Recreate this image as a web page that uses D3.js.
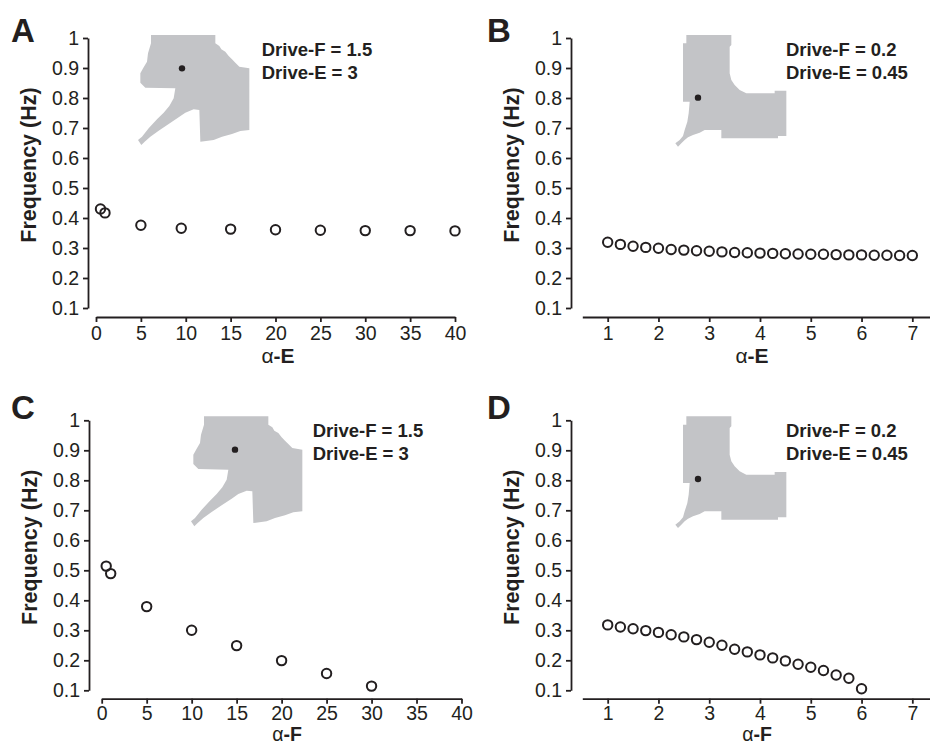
<!DOCTYPE html>
<html>
<head>
<meta charset="utf-8">
<script src="https://cdn.jsdelivr.net/npm/d3@7"></script>
<style>
  body { margin: 0; background: #fff; }
  svg { display: block; font-family: "Liberation Sans", Arial, sans-serif; }
  .axis path, .axis line { stroke: #231f20; stroke-width: 1.8; }
  .axis text { fill: #231f20; font-size: 19.5px; }
</style>
</head>
<body>
<div id="chart"></div>
<script>
// ---- data ----
var yTicks = [0.1, 0.2, 0.3, 0.4, 0.5, 0.6, 0.7, 0.8, 0.9, 1];
var xTicksWide = [0, 5, 10, 15, 20, 25, 30, 35, 40];
var xTicksNarrow = [1, 2, 3, 4, 5, 6, 7];

// A: alpha-E sweep, Drive-F = 1.5, Drive-E = 3
var alphaE_A = [0.5, 1, 5, 9.5, 15, 20, 25, 30, 35, 40];
var freqA = [0.430, 0.417, 0.376, 0.366, 0.363, 0.361, 0.359, 0.358, 0.358, 0.357];

// B: alpha-E sweep, Drive-F = 0.2, Drive-E = 0.45
var alphaE_B = [1, 1.25, 1.5, 1.75, 2, 2.25, 2.5, 2.75, 3, 3.25, 3.5, 3.75, 4,
                4.25, 4.5, 4.75, 5, 5.25, 5.5, 5.75, 6, 6.25, 6.5, 6.75, 7];
var freqB = [0.319, 0.312, 0.306, 0.302, 0.299, 0.295, 0.293, 0.291, 0.289, 0.287,
             0.285, 0.284, 0.283, 0.282, 0.281, 0.280, 0.279, 0.279, 0.278, 0.277,
             0.277, 0.276, 0.276, 0.275, 0.275];

// C: alpha-F sweep, Drive-F = 1.5, Drive-E = 3
var alphaF_C = [0.5, 1, 5, 10, 15, 20, 25, 30];
var freqC = [0.514, 0.489, 0.379, 0.300, 0.249, 0.199, 0.156, 0.114];

// D: alpha-F sweep, Drive-F = 0.2, Drive-E = 0.45
var alphaF_D = [1, 1.25, 1.5, 1.75, 2, 2.25, 2.5, 2.75, 3, 3.25, 3.5, 3.75, 4,
                4.25, 4.5, 4.75, 5, 5.25, 5.5, 5.75, 6];
var freqD = [0.318, 0.311, 0.305, 0.299, 0.293, 0.285, 0.278, 0.269, 0.260, 0.250,
             0.237, 0.228, 0.218, 0.208, 0.198, 0.187, 0.177, 0.166, 0.151, 0.140, 0.105];

var driveHigh = ["Drive-F = 1.5", "Drive-E = 3"];
var driveLow = ["Drive-F = 0.2", "Drive-E = 0.45"];

// inset regions (oscillation region outlines, grid units 0..375)
var regionHigh = [[57,15],[250,15],[250,40],[262,48],[268,58],[280,65],[290,78],[300,88],
  [310,98],[322,110],[352,115],[352,300],[325,303],[300,312],[270,320],[245,330],[205,335],
  [202,240],[185,238],[160,248],[140,262],[110,282],[80,302],[55,320],[38,335],[28,345],
  [18,330],[30,320],[50,295],[75,268],[95,248],[112,228],[125,205],[130,175],[40,173],
  [25,158],[25,130],[35,112],[45,95],[48,70],[57,40]];
var dotHigh = [150, 115];
var regionLow = [[55,15],[190,15],[190,45],[185,50],[185,130],[190,150],[200,165],[215,180],
  [235,190],[320,190],[320,182],[355,182],[355,318],[330,318],[330,325],[160,325],[160,300],
  [110,300],[95,308],[75,315],[60,322],[50,330],[40,340],[30,350],[22,340],[35,330],[45,318],
  [50,300],[58,275],[62,250],[65,215],[45,215],[45,40],[55,40]];
var dotLow = [90, 203];

// ---- layout ----
var W = 930, H = 745;
var ink = "#231f20", regionGrey = "#c3c4c7";

var panels = [
  { letter: "A", lx: 11, ly: 41.7, xs: alphaE_A, ys: freqA, xDom: [0, 40], xTicks: xTicksWide,
    xRange: [96, 455], yAxisX: 88, yRange: [308, 38], xAxisY: 317, xPad: 4, xName: "E", xLabX: 278, xLabY: 363, xLabSize: 21,
    drive: driveHigh, dx: 261.7, dy: 56, region: regionHigh, dot: dotHigh, ix: 132, iy: 30 },
  { letter: "B", lx: 487, ly: 41.7, xs: alphaE_B, ys: freqB, xDom: [0.5, 7.5], xTicks: xTicksNarrow,
    xRange: [582.3, 937.7], yAxisX: 571, yRange: [308, 38], xAxisY: 317, xPad: 4, xName: "E", xLabX: 752, xLabY: 363, xLabSize: 21,
    drive: driveLow, dx: 786, dy: 56, region: regionLow, dot: dotLow, ix: 668, iy: 30 },
  { letter: "C", lx: 11, ly: 418.7, xs: alphaF_C, ys: freqC, xDom: [0, 40], xTicks: xTicksWide,
    xRange: [101.7, 461.5], yAxisX: 89, yRange: [690.3, 420.3], xAxisY: 698.7, xPad: 2, xName: "F", xLabX: 287, xLabY: 740.5, xLabSize: 19.5,
    drive: driveHigh, dx: 312.7, dy: 437, region: regionHigh, dot: dotHigh, ix: 185, iy: 411.3 },
  { letter: "D", lx: 487, ly: 418.7, xs: alphaF_D, ys: freqD, xDom: [0.5, 7.5], xTicks: xTicksNarrow,
    xRange: [582.3, 937.7], yAxisX: 571, yRange: [690.3, 420.3], xAxisY: 698.7, xPad: 2, xName: "F", xLabX: 757, xLabY: 740.5, xLabSize: 19.5,
    drive: driveLow, dx: 786, dy: 437, region: regionLow, dot: dotLow, ix: 668, iy: 411.3 }
];

var svg = d3.select("#chart").append("svg")
  .attr("width", W)
  .attr("height", H);

panels.forEach(function(p) {
  var g = svg.append("g");
  var x = d3.scaleLinear().domain(p.xDom).range(p.xRange);
  var y = d3.scaleLinear().domain([0.1, 1]).range(p.yRange);

  // inset: grey region with the operating point
  var ix = d3.scaleLinear().domain([0, 375]).range([p.ix, p.ix + 125]);
  var iy = d3.scaleLinear().domain([0, 366]).range([p.iy, p.iy + 122]);
  g.append("path")
    .datum(p.region)
    .attr("d", d3.line().x(function(d) { return ix(d[0]); }).y(function(d) { return iy(d[1]); }).curve(d3.curveLinearClosed))
    .attr("fill", regionGrey);
  g.append("circle")
    .attr("cx", ix(p.dot[0]))
    .attr("cy", iy(p.dot[1]))
    .attr("r", 3.2)
    .attr("fill", ink);

  // y axis
  g.append("g")
    .attr("class", "axis")
    .attr("transform", "translate(" + p.yAxisX + ",0)")
    .call(d3.axisLeft(y).tickValues(yTicks).tickSize(5).tickSizeOuter(0).tickPadding(4)
      .tickFormat(function(d) { return d === 1 ? "1" : d.toFixed(1); }));

  // x axis
  g.append("g")
    .attr("class", "axis")
    .attr("transform", "translate(0," + p.xAxisY + ")")
    .call(d3.axisBottom(x).tickValues(p.xTicks).tickSize(5).tickSizeOuter(0).tickPadding(p.xPad)
      .tickFormat(d3.format("d")));

  g.selectAll(".axis text").attr("font-family", "Liberation Sans, Arial, sans-serif");

  // y title
  var midY = (p.yRange[0] + p.yRange[1]) / 2 - 8;
  g.append("text")
    .attr("transform", "translate(" + (p.yAxisX - 52) + "," + midY + ") rotate(-90)")
    .attr("text-anchor", "middle")
    .attr("font-size", 21.5)
    .attr("font-weight", "bold")
    .attr("fill", ink)
    .text("Frequency (Hz)");

  // x title: alpha-E / alpha-F
  var xt = g.append("text")
    .attr("x", p.xLabX)
    .attr("y", p.xLabY)
    .attr("text-anchor", "middle")
    .attr("font-size", p.xLabSize)
    .attr("fill", ink);
  xt.append("tspan").attr("font-weight", "normal").text("\u03b1");
  xt.append("tspan").attr("font-weight", "bold").text("-" + p.xName);

  // panel letter
  g.append("text")
    .attr("x", p.lx)
    .attr("y", p.ly)
    .attr("font-size", 33)
    .attr("font-weight", "bold")
    .attr("fill", ink)
    .text(p.letter);

  // drive annotation
  g.selectAll(".drive")
    .data(p.drive)
    .enter().append("text")
    .attr("x", p.dx)
    .attr("y", function(d, i) { return p.dy + i * 23.3; })
    .attr("font-size", 18.5)
    .attr("font-weight", "bold")
    .attr("fill", ink)
    .text(function(d) { return d; });

  // data points
  g.selectAll(".pt")
    .data(p.xs)
    .enter().append("circle")
    .attr("cx", function(d) { return x(d); })
    .attr("cy", function(d, i) { return y(p.ys[i]); })
    .attr("r", 4.7)
    .attr("fill", "none")
    .attr("stroke", ink)
    .attr("stroke-width", 2);
});
</script>
</body>
</html>
